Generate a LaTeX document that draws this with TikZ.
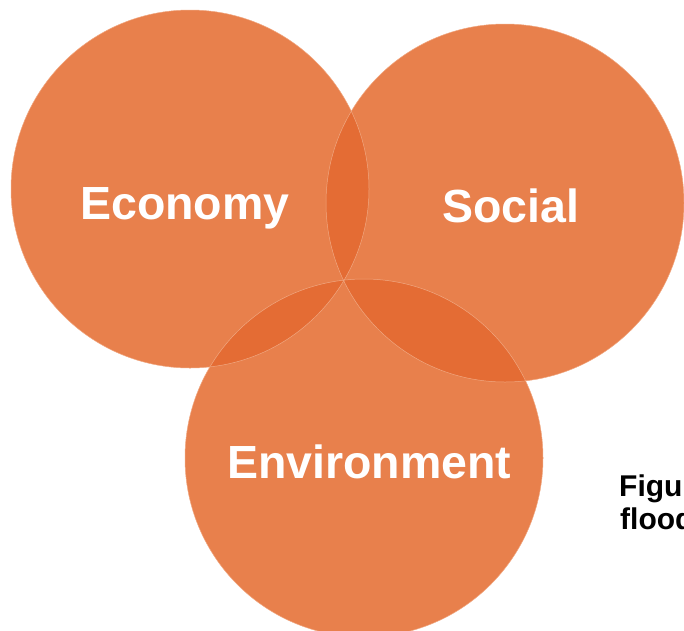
\documentclass[tikz,border=0pt]{standalone}
\usepackage{fontspec}
\setmainfont{Liberation Sans}
\usepackage{xcolor}
\usetikzlibrary{positioning}

\definecolor{venn}{RGB}{232,128,76}
\definecolor{venndark}{RGB}{228,108,52}
\definecolor{vennedge}{RGB}{240,168,130}

\begin{document}
\begin{tikzpicture}[
            x=1pt, y=-1pt,
            set/.style={circle, fill=venn, minimum size=358pt, inner sep=0pt},
            setlabel/.style={text=white, font=\bfseries\fontsize{46.5}{52}\selectfont, anchor=base west, inner sep=0pt},
            caption/.style={text=black, font=\bfseries\fontsize{30}{34}\selectfont, anchor=base west, inner sep=0pt}
        ]
        \useasboundingbox (0,0) rectangle (684,630);
        \clip (0,0) rectangle (684,630);

        % Sets
        \node[set] (economy) at (190,189) {};
        \node[set] (social) at (505,203) {};
        \node[set] (environment) at (364,458) {};

        % Pairwise overlaps
        \begin{scope}
            \clip (economy.center) circle (179);
            \fill[venndark] (social.center) circle (179);
            \fill[venndark] (environment.center) circle (179);
        \end{scope}
        \begin{scope}
            \clip (social.center) circle (179);
            \fill[venndark] (environment.center) circle (179);
        \end{scope}
        % Centre of all three
        \begin{scope}
            \clip (economy.center) circle (179);
            \clip (social.center) circle (179);
            \fill[venn] (environment.center) circle (179);
        \end{scope}

        % Edges
        \draw[vennedge, line width=0.5pt] (economy.center) circle (179);
        \draw[vennedge, line width=0.5pt] (social.center) circle (179);
        \draw[vennedge, line width=0.5pt] (environment.center) circle (179);

        % Labels
        \node[setlabel] (econlabel) at (80,219) {Economy};
        \node[setlabel] (soclabel) at (442,222) {Social};
        \node[setlabel] (envlabel) at (227,478) {Environment};

        % Caption (cut by the edge)
        \node[caption] (figlabel) at (619,496) {Figure};
        \node[caption] (floodlabel) at (620,529) {flood};

    \end{tikzpicture}
\end{document}
